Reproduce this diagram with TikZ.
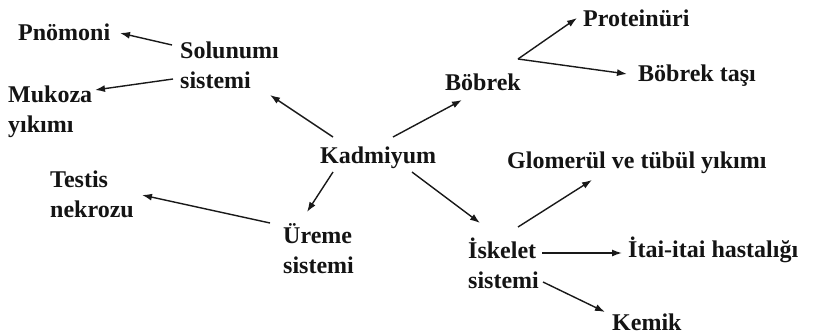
\documentclass[tikz,border=0pt]{standalone}
\usepackage{fontspec}
\setmainfont{Liberation Serif}
\usetikzlibrary{arrows.meta}
\begin{document}
\begin{tikzpicture}[x=1pt,y=-1pt,
  lbl/.style={anchor=west,inner sep=0pt,align=left,text=black!92,
    font=\fontsize{24}{30}\selectfont\bfseries},
  arr/.style={-{Latex[length=10pt,width=7pt]},line width=1.4pt,black!90}]
\useasboundingbox[fill=white] (0,0) rectangle (814,335);
\node[lbl] (pno) at (18,32) {Pnömoni};
\node[lbl] (sol) at (180,65) {Solunumı\\sistemi};
\node[lbl] (muk) at (8,112) {Mukoza\\yıkımı};
\node[lbl] (kad) at (320,158) {Kadmiyum};
\node[lbl] (bob) at (445,82) {Böbrek};
\node[lbl] (prot) at (583,18) {Proteinüri};
\node[lbl] (tasi) at (638,76) {Böbrek taşı};
\node[lbl] (tes) at (50,194) {Testis\\nekrozu};
\node[lbl] (ure) at (283,249) {Üreme\\sistemi};
\node[lbl] (glo) at (507,163) {Glomerül ve tübül yıkımı};
\node[lbl] (isk) at (468,263) {İskelet\\sistemi};
\node[lbl] (itai) at (628,250) {İtai-itai hastalığı};
\node[lbl] (kem) at (612,322) {Kemik};
\draw[arr] ([shift={(-8,-20)}]sol.west) -- ([shift={(102,1)}]pno.west);
\draw[arr] ([shift={(-7,14)}]sol.west) -- ([shift={(87,-22)}]muk.west);
\draw[arr] ([shift={(13,-21)}]kad.west) -- ([shift={(90,30)}]sol.west);
\draw[arr] ([shift={(73,-21)}]kad.west) -- ([shift={(17,18)}]bob.west);
\draw[arr] ([shift={(73,-23)}]bob.west) -- ([shift={(-6,0)}]prot.west);
\draw[arr] ([shift={(73,-23)}]bob.west) -- ([shift={(-11,-2)}]tasi.west);
\draw[arr] ([shift={(13,14)}]kad.west) -- ([shift={(24,-37)}]ure.west);
\draw[arr] ([shift={(-13,-26)}]ure.west) -- ([shift={(92,1)}]tes.west);
\draw[arr] ([shift={(92,14)}]kad.west) -- ([shift={(12,-40)}]isk.west);
\draw[arr] ([shift={(50,-36)}]isk.west) -- ([shift={(85,17)}]glo.west);
\draw[arr] ([shift={(74,-10)}]isk.west) -- ([shift={(-6,3)}]itai.west);
\draw[arr] ([shift={(75,19)}]isk.west) -- ([shift={(-7,-10)}]kem.west);
\end{tikzpicture}
\end{document}
